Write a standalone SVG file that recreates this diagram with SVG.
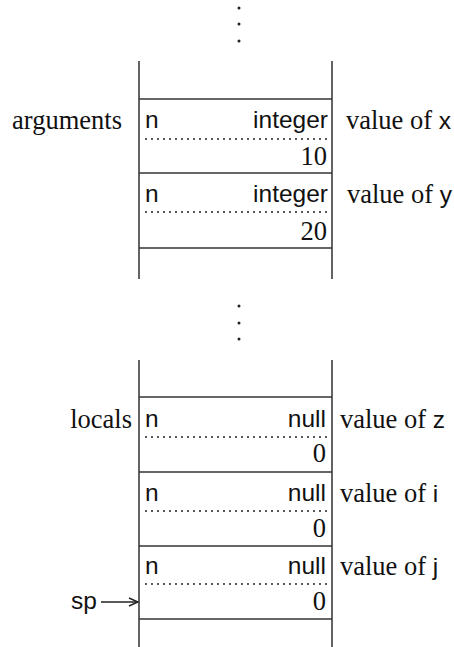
<svg xmlns="http://www.w3.org/2000/svg" width="454" height="647" viewBox="0 0 454 647">
<style>
.frame{stroke:#222;stroke-width:1.4;fill:none}
.sep{stroke:#333;stroke-width:1.6;fill:none}
.dots{stroke:#222;stroke-width:2;stroke-dasharray:0 6;stroke-linecap:round;fill:none}
.sans{font-family:"Liberation Sans",Arial,sans-serif;font-size:24.5px;fill:#111}
.serif{font-family:"Liberation Serif","Times New Roman",serif;font-size:26.5px;fill:#111}
.end{text-anchor:end}
.dot{fill:#222}
</style>
<rect width="454" height="647" fill="#fff"/>
<g id="ellipsis-top">
<circle class="dot" cx="239" cy="8" r="1.5"/>
<circle class="dot" cx="239" cy="24" r="1.5"/>
<circle class="dot" cx="239" cy="41" r="1.5"/>
</g>
<g id="stack-arguments">
<line class="frame" x1="139" y1="61" x2="139" y2="279"/>
<line class="frame" x1="332" y1="61" x2="332" y2="279"/>
<line class="sep" x1="139" y1="99" x2="332" y2="99"/>
<line class="sep" x1="139" y1="173" x2="332" y2="173"/>
<line class="sep" x1="139" y1="248" x2="332" y2="248"/>
<text class="serif end" x="122" y="129">arguments</text>
</g>
<g id="cell-x">
<text class="sans" x="145" y="128">n</text>
<text class="sans end" x="328" y="128">integer</text>
<line class="dots" x1="146" y1="139" x2="330" y2="139"/>
<text class="serif end" x="327" y="165">10</text>
<text x="346" y="129"><tspan class="serif">value of </tspan><tspan class="sans">x</tspan></text>
</g>
<g id="cell-y">
<text class="sans" x="145" y="202">n</text>
<text class="sans end" x="328" y="202">integer</text>
<line class="dots" x1="146" y1="212" x2="330" y2="212"/>
<text class="serif end" x="327" y="240">20</text>
<text x="347" y="203"><tspan class="serif">value of </tspan><tspan class="sans">y</tspan></text>
</g>
<g id="ellipsis-middle">
<circle class="dot" cx="239" cy="306" r="1.5"/>
<circle class="dot" cx="239" cy="323" r="1.5"/>
<circle class="dot" cx="239" cy="339" r="1.5"/>
</g>
<g id="stack-locals">
<line class="frame" x1="139" y1="360" x2="139" y2="647"/>
<line class="frame" x1="332" y1="360" x2="332" y2="647"/>
<line class="sep" x1="139" y1="397" x2="332" y2="397"/>
<line class="sep" x1="139" y1="472" x2="332" y2="472"/>
<line class="sep" x1="139" y1="546" x2="332" y2="546"/>
<line class="sep" x1="139" y1="619" x2="332" y2="619"/>
<text class="serif end" x="132" y="428">locals</text>
</g>
<g id="cell-z">
<text class="sans" x="145" y="427">n</text>
<text class="sans end" x="326" y="427">null</text>
<line class="dots" x1="146" y1="437" x2="330" y2="437"/>
<text class="serif end" x="326" y="462">0</text>
<text x="340" y="428"><tspan class="serif">value of </tspan><tspan class="sans">z</tspan></text>
</g>
<g id="cell-i">
<text class="sans" x="145" y="501">n</text>
<text class="sans end" x="326" y="501">null</text>
<line class="dots" x1="146" y1="511" x2="330" y2="511"/>
<text class="serif end" x="326" y="537">0</text>
<text x="340" y="502"><tspan class="serif">value of </tspan><tspan class="sans">i</tspan></text>
</g>
<g id="cell-j">
<text class="sans" x="145" y="574">n</text>
<text class="sans end" x="326" y="574">null</text>
<line class="dots" x1="146" y1="584" x2="330" y2="584"/>
<text class="serif end" x="326" y="610">0</text>
<text x="340" y="575"><tspan class="serif">value of </tspan><tspan class="sans">j</tspan></text>
</g>
<g id="sp">
<text class="sans end" x="97" y="609">sp</text>
</g>
<g id="connectors">
<line class="frame" x1="101" y1="602" x2="137" y2="602"/>
<polyline class="frame" points="129,598 138,602 129,606"/>
</g>
</svg>
